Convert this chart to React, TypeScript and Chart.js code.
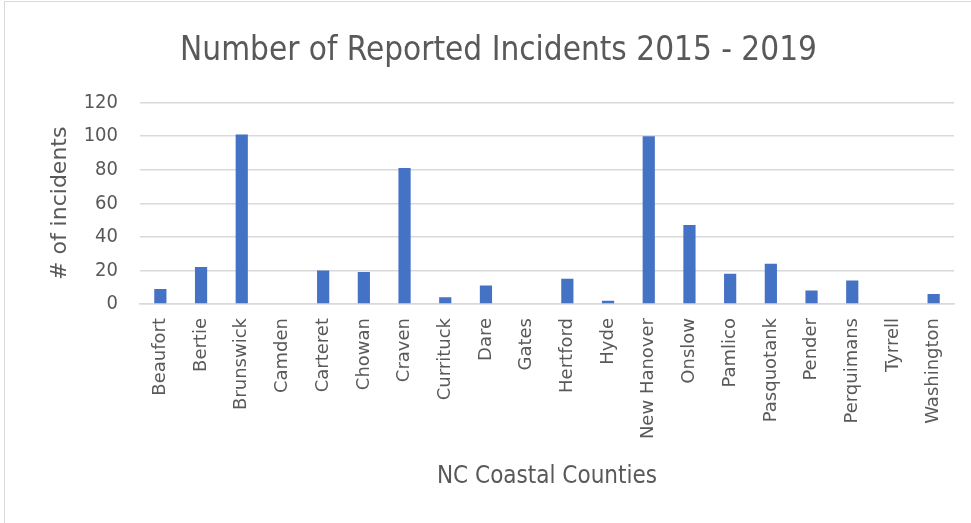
import React, { useEffect, useRef } from "react";
import { Chart, registerables } from "chart.js";

Chart.register(...registerables);

const counties = [
  "Beaufort", "Bertie", "Brunswick", "Camden", "Carteret", "Chowan", "Craven",
  "Currituck", "Dare", "Gates", "Hertford", "Hyde", "New Hanover", "Onslow",
  "Pamlico", "Pasquotank", "Pender", "Perquimans", "Tyrrell", "Washington",
];
const incidents = [9, 22, 101, 0, 20, 19, 81, 4, 11, 0, 15, 2, 100, 47, 18, 24, 8, 14, 0, 6];

const chartTitle = "Number of Reported Incidents 2015 - 2019";
const xTitle = "NC Coastal Counties";
const yTitle = "# of incidents";

const TEXT = "#595959";
const GRID = "#d9d9d9";
const NARROW = "'DejaVu Sans Condensed', 'Liberation Sans Narrow', 'DejaVu Sans', sans-serif";
const WIDE = "'DejaVu Sans', Verdana, sans-serif";

export default function App() {
  const ref = useRef<HTMLCanvasElement | null>(null);

  useEffect(() => {
    document.body.style.margin = "0";
    const canvas = ref.current;
    if (!canvas) return;
    const chart = new Chart(canvas, {
      type: "bar",
      data: {
        labels: counties,
        datasets: [
          {
            label: "Incidents",
            data: incidents,
            backgroundColor: "#4472C4",
            barPercentage: 0.3,
            categoryPercentage: 1,
          },
        ],
      },
      options: {
        responsive: false,
        animation: false,
        layout: { padding: { left: 43, right: 17, top: 0, bottom: 28 } },
        plugins: {
          legend: { display: false },
          tooltip: { enabled: false },
          title: {
            display: true,
            text: chartTitle,
            color: TEXT,
            font: { family: NARROW, size: 33, weight: "normal" },
            padding: { top: 32, bottom: 31 },
          },
        },
        scales: {
          x: {
            grid: { display: false, drawTicks: false },
            border: { display: true, color: GRID, width: 1.5 },
            ticks: {
              color: TEXT,
              font: { family: WIDE, size: 18 },
              minRotation: 90,
              maxRotation: 90,
              autoSkip: false,
              padding: 14,
            },
            title: {
              display: true,
              text: xTitle,
              color: TEXT,
              font: { family: NARROW, size: 24 },
              padding: { top: 4, bottom: 4 },
            },
            afterFit: (scale: any) => {
              scale.height = 191;
            },
          },
          y: {
            min: 0,
            max: 120,
            grid: { color: GRID, lineWidth: 1.5, drawTicks: false },
            border: { display: false },
            ticks: {
              stepSize: 20,
              color: TEXT,
              font: { family: NARROW, size: 20 },
              padding: 22,
            },
            title: {
              display: true,
              text: yTitle,
              color: TEXT,
              font: { family: WIDE, size: 22 },
              padding: { top: 4, bottom: 4 },
            },
            afterFit: (scale: any) => {
              scale.width = 97;
            },
          },
        },
      },
    });
    return () => chart.destroy();
  }, []);

  return (
    <div style={{ position: "fixed", left: 0, top: 0, width: 971, height: 523, background: "#fff", overflow: "hidden" }}>
      <div
        style={{
          position: "absolute",
          left: 4,
          top: 1,
          right: -10,
          bottom: -10,
          borderLeft: "1px solid #d9d9d9",
          borderTop: "1px solid #d9d9d9",
        }}
      />
      <canvas ref={ref} width={971} height={523} style={{ position: "absolute", left: 0, top: 0 }} />
    </div>
  );
}
